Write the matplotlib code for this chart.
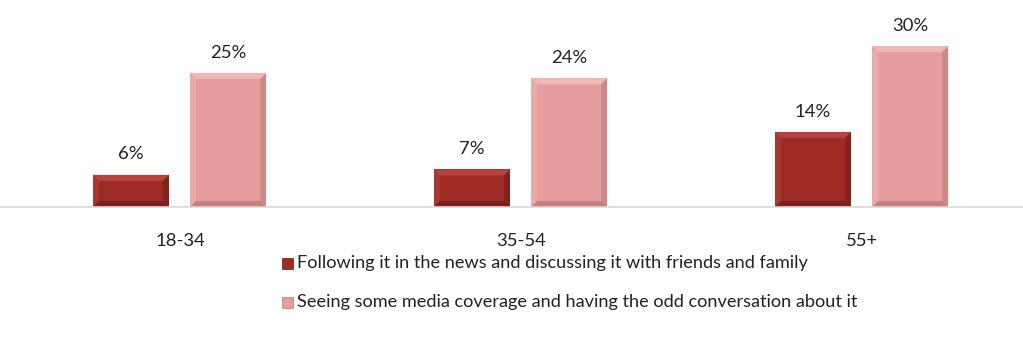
import matplotlib.pyplot as plt
from matplotlib.patches import Polygon, Rectangle
import numpy as np

plt.rcParams['font.family'] = ['Lato', 'DejaVu Sans']

groups = ['18-34', '35-54', '55+']
following = [6, 7, 14]
seeing = [25, 24, 30]
series_names = ['Following it in the news and discussing it with friends and family',
                'Seeing some media coverage and having the odd conversation about it']
colors = ['#9E2A24', '#E59D9D']
edge_light = ['#C0504A', '#F2C4C4']
edge_dark = ['#6E1C18', '#B87575']

fig = plt.figure(figsize=(10.23, 3.45), dpi=100)
ax = fig.add_axes([0, 0.4, 1, 0.6])
ax.set_xlim(-0.528, 2.472)
ax.set_ylim(0, 38.6)

width = 0.223
offsets = [-0.144, 0.141]
# bevel size in data units (about 6 px each way)
bx = 6 / 341
by = 6 / 5.36


def bevel_bar(x0, h, c, cl, cd):
    x1 = x0 + width
    ax.add_patch(Rectangle((x0, 0), width, h, facecolor=c, edgecolor='none'))
    top = [(x0, h), (x1, h), (x1 - bx, h - by), (x0 + bx, h - by)]
    left = [(x0, 0), (x0, h), (x0 + bx, h - by), (x0 + bx, by)]
    right = [(x1, 0), (x1, h), (x1 - bx, h - by), (x1 - bx, by)]
    bottom = [(x0, 0), (x1, 0), (x1 - bx, by), (x0 + bx, by)]
    ax.add_patch(Polygon(top, facecolor=cl, edgecolor='none', alpha=0.7))
    ax.add_patch(Polygon(left, facecolor=cl, edgecolor='none', alpha=0.35))
    ax.add_patch(Polygon(right, facecolor=cd, edgecolor='none', alpha=0.5))
    ax.add_patch(Polygon(bottom, facecolor=cd, edgecolor='none', alpha=0.7))


x = np.arange(len(groups))
for s, vals in enumerate([following, seeing]):
    for i, v in enumerate(vals):
        x0 = x[i] + offsets[s] - width / 2
        bevel_bar(x0, v, colors[s], edge_light[s], edge_dark[s])
        ax.text(x[i] + offsets[s], v + 2.3, f'{v}%', ha='center', va='bottom',
                fontsize=13.3, color='#222222')

for sp in ['top', 'right', 'left']:
    ax.spines[sp].set_visible(False)
ax.spines['bottom'].set_color('#D9D9D9')
ax.spines['bottom'].set_linewidth(1.2)
ax.set_yticks([])
ax.set_xticks(x)
ax.set_xticklabels(groups, fontsize=13.3, color='#222222')
ax.tick_params(axis='x', length=0, pad=19)

# legend entries
for k, name in enumerate(series_names):
    yy = 263 + 39 * k
    fig.patches.append(Rectangle((282 / 1023, 1 - (yy + 6) / 345), 11 / 1023, 11 / 345,
                                 transform=fig.transFigure, figure=fig,
                                 facecolor=colors[k], edgecolor=edge_dark[k], linewidth=0.5))
    fig.text(297 / 1023, 1 - yy / 345, name, fontsize=13.1, color='#222222',
             ha='left', va='center')

fig.savefig('out.png', dpi=100)
